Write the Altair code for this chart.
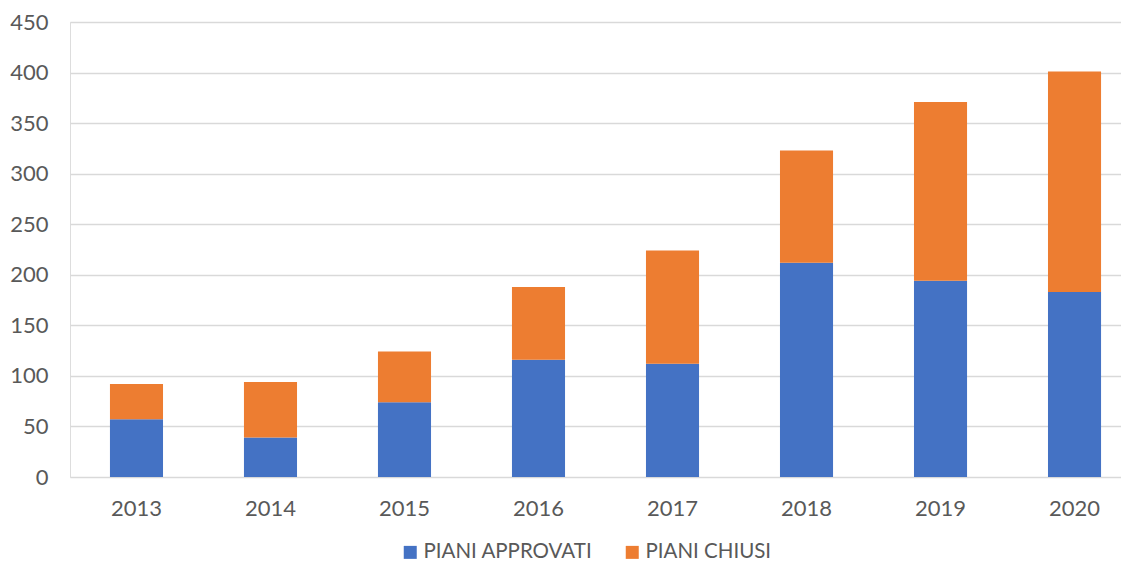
import altair as alt
import pandas as pd

years = ["2013", "2014", "2015", "2016", "2017", "2018", "2019", "2020"]
approvati = [57, 39, 74, 116, 112, 212, 194, 183]
chiusi = [35, 55, 50, 72, 112, 111, 177, 218]
series = ["PIANI APPROVATI", "PIANI CHIUSI"]
colors = ["#4472C4", "#ED7D31"]
y_ticks = [0, 50, 100, 150, 200, 250, 300, 350, 400, 450]

rows = []
for i, yr in enumerate(years):
    rows.append({"anno": yr, "serie": series[0], "valore": approvati[i], "ord": 0})
    rows.append({"anno": yr, "serie": series[1], "valore": chiusi[i], "ord": 1})
df = pd.DataFrame(rows)

FONT = "Lato"
GRAY = "#595959"

chart = (
    alt.Chart(df)
    .mark_bar()
    .encode(
        x=alt.X(
            "anno:N",
            sort=years,
            title=None,
            scale=alt.Scale(paddingInner=0.604, paddingOuter=0.2235, align=0.667, round=False),
            axis=alt.Axis(
                labelAngle=0,
                domain=False,
                ticks=False,
                labelFont=FONT,
                labelFontSize=22,
                labelColor=GRAY,
                labelPadding=21,
                grid=False,
            ),
        ),
        y=alt.Y(
            "valore:Q",
            title=None,
            scale=alt.Scale(domain=[0, 450], nice=False),
            axis=alt.Axis(
                values=y_ticks,
                domain=False,
                ticks=False,
                labelFont=FONT,
                labelFontSize=22,
                labelColor=GRAY,
                labelPadding=22,
                gridColor="#D9D9D9",
                gridWidth=1.5,
            ),
        ),
        color=alt.Color(
            "serie:N",
            scale=alt.Scale(domain=series, range=colors),
            legend=alt.Legend(
                title=None,
                orient="none",
                direction="horizontal",
                legendX=330,
                legendY=520,
                symbolType="square",
                symbolSize=169,
                symbolStrokeWidth=0,
                symbolOpacity=1,
                labelFont=FONT,
                labelFontSize=20.5,
                labelColor=GRAY,
                labelOffset=3,
                labelLimit=0,
                columnPadding=29,
                padding=0,
            ),
        ),
        order=alt.Order("ord:Q", sort="ascending"),
    )
    .properties(
        width=1051,
        height=455,
        padding={"left": 62, "top": 14, "right": 0, "bottom": 84},
        autosize=alt.AutoSizeParams(type="none"),
    )
    .configure_view(stroke=None)
    .configure(background="white")
)

chart.save("out.html", embed_options={"renderer": "svg", "actions": False})
